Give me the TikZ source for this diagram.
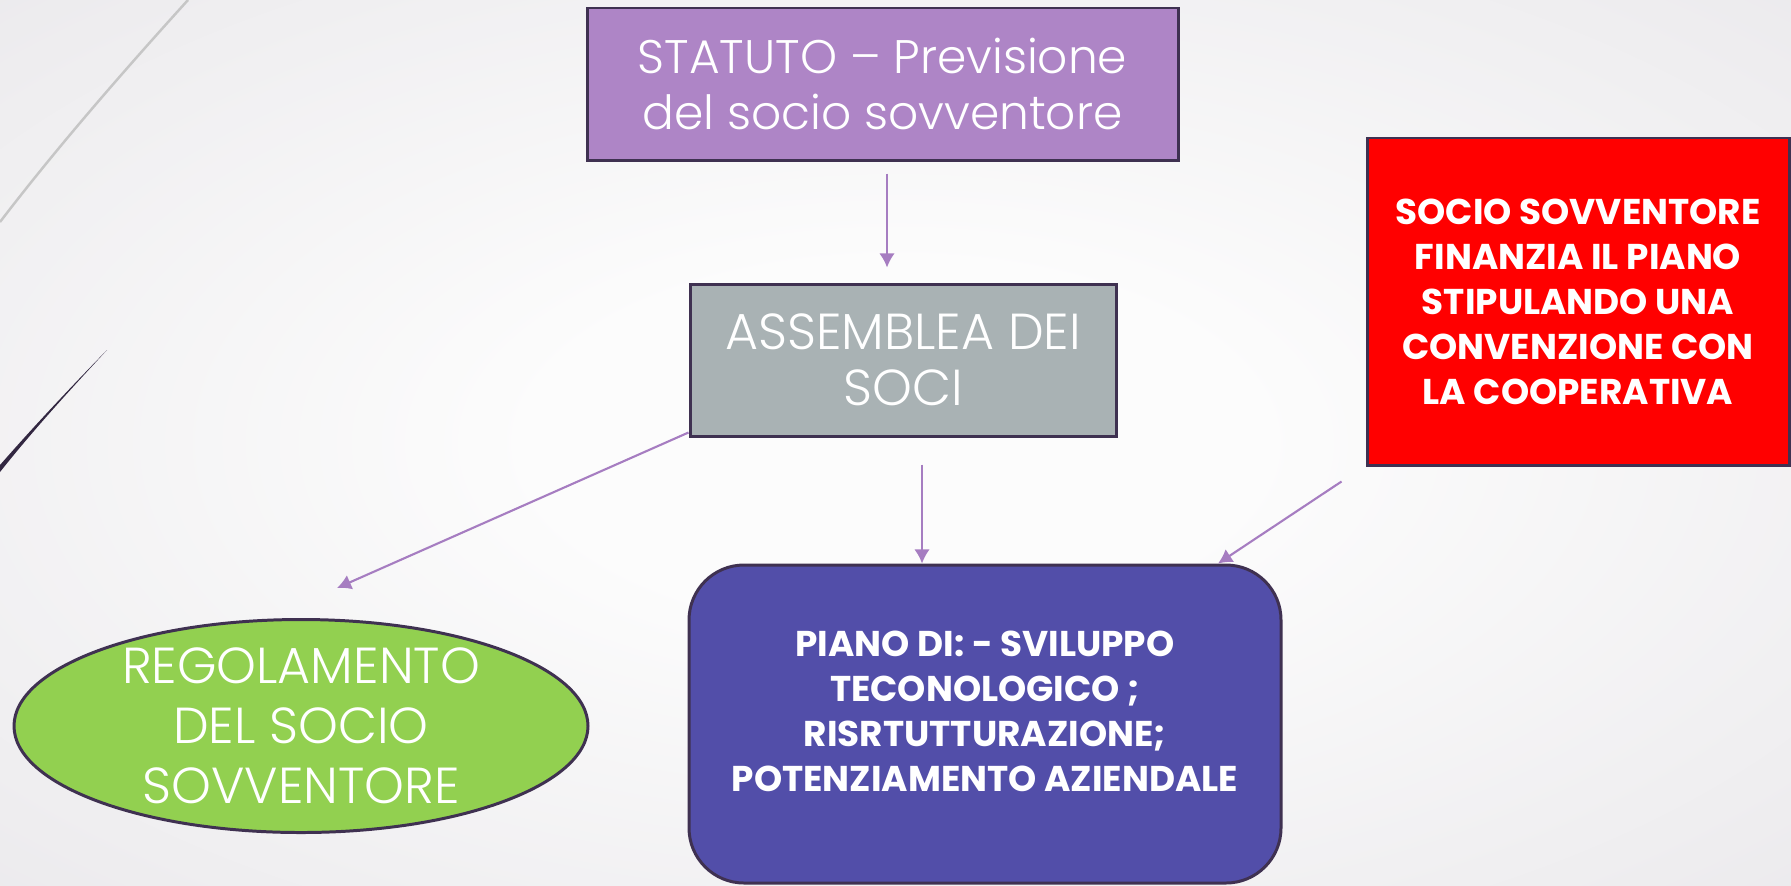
\documentclass[tikz,border=0pt]{standalone}
\usepackage{fontspec}
\setmainfont{Poppins}[UprightFont=* Light, BoldFont=* Bold]
\usepackage{tikz}
\usetikzlibrary{arrows.meta}
\usetikzlibrary{calc}
\usetikzlibrary{math}
\usetikzlibrary{shapes.geometric}

\definecolor{bgmid}{HTML}{FCFCFC}
\definecolor{bgedge}{HTML}{E3E1E5}
\definecolor{rim}{HTML}{3F3151}
\definecolor{statutoc}{HTML}{AE85C6}
\definecolor{assembleac}{HTML}{A9B2B4}
\definecolor{regolac}{HTML}{92D050}
\definecolor{pianoc}{HTML}{524EA9}
\definecolor{arrowc}{HTML}{A67DC1}

\pgfdeclareradialshading{slidebg}{\pgfpoint{0bp}{0bp}}{color(0bp)=(bgmid); color(10bp)=(bgmid); color(50bp)=(bgedge); color(75bp)=(bgedge)}

\tikzstyle{light} = [font=\fontsize{14.4pt}{16pt}\selectfont, text=white, align=center]
\tikzstyle{heavy} = [font=\fontsize{10.2pt}{12.8pt}\selectfont\bfseries, text=white, align=center]
\tikzstyle{box} = [rectangle, draw=rim, line width=0.85pt, inner sep=0pt]
\tikzstyle{arrow} = [->, draw=arrowc, line width=0.6pt]

\begin{document}
\begin{tikzpicture}[>={Latex[length=4pt,width=4.4pt]}]

  \tikzmath{\W = 17.91; \H = 8.85;}

  % background
  \useasboundingbox (0,0) rectangle (\W,\H);
  \shade[shading=slidebg] (0,0) rectangle (\W,\H);
  \draw[color=gray!45, line width=0.7pt] (1.88,\H) .. controls (1.2,8.1) and (0.55,7.35) .. (0,6.63);
  \fill[color=rim!80!black] (1.07,5.35) .. controls (0.7,4.95) and (0.35,4.57) .. (0,4.13) -- (0,4.2) .. controls (0.35,4.6) and (0.7,4.97) .. (1.07,5.35);

  % boxes
  \node[box, light, font=\fontsize{13.4pt}{16.2pt}\selectfont, fill=statutoc, minimum width=5.91cm, minimum height=1.52cm] (statuto) at (8.825,8.01) {STATUTO -- Previsione\\del socio sovventore};
  \node[box, light, fill=assembleac, minimum width=4.26cm, minimum height=1.52cm] (assemblea) at (9.03,5.25) {ASSEMBLEA DEI\\SOCI};
  \node[box, heavy, fill=red, minimum width=4.22cm, minimum height=3.27cm] (socio) at (15.78,5.835) {SOCIO SOVVENTORE\\FINANZIA IL PIANO\\STIPULANDO UNA\\CONVENZIONE CON\\LA COOPERATIVA};
  \node[ellipse, draw=rim, line width=0.85pt, fill=regolac, minimum width=5.74cm, minimum height=2.13cm, inner sep=0pt,
        label={[light, font=\fontsize{14.4pt}{17pt}\selectfont]center:REGOLAMENTO\\DEL SOCIO\\SOVVENTORE}] (regolamento) at (3.01,1.59) {};
  \node[box, rounded corners=0.55cm, fill=pianoc, minimum width=5.92cm, minimum height=3.18cm,
        label={[heavy, yshift=0.13cm]center:PIANO DI: - SVILUPPO\\TECONOLOGICO ;\\RISRTUTTURAZIONE;\\POTENZIAMENTO AZIENDALE}] (piano) at (9.85,1.61) {};

  % arrows
  \draw[arrow, shorten <=0.12cm, shorten >=0.15cm] ([xshift=0.045cm]statuto.south) -- ([xshift=0.045cm]statuto.south |- assemblea.north);
  \draw[arrow] ([yshift=0.05cm]assemblea.south west) -- ([shift={(0.36,0.30)}]regolamento.north);
  \draw[arrow, shorten <=0.27cm] ([xshift=0.19cm]assemblea.south) -- ([xshift=0.19cm]assemblea.south |- piano.north);
  \draw[arrow] ([shift={(-0.24,-0.15)}]socio.south west) -- ([xshift=2.33cm]piano.north);

\end{tikzpicture}
\end{document}
